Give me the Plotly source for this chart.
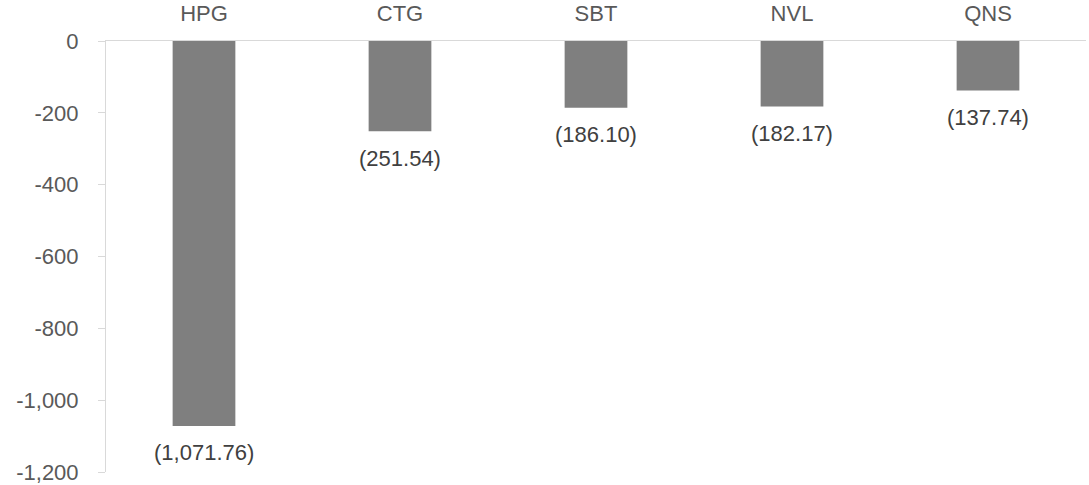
import plotly.graph_objects as go

categories = ["HPG", "CTG", "SBT", "NVL", "QNS"]
values = [-1071.76, -251.54, -186.10, -182.17, -137.74]
labels = ["(1,071.76)", "(251.54)", "(186.10)", "(182.17)", "(137.74)"]
y_tickvals = [0, -200, -400, -600, -800, -1000, -1200]
y_ticktext = ["0", "-200", "-400", "-600", "-800", "-1,000", "-1,200"]

FONT = "Liberation Sans, Arial, sans-serif"

fig = go.Figure()
fig.add_trace(go.Bar(
    x=categories, y=values,
    marker=dict(color="#7f7f7f", line=dict(width=0)),
    width=0.32,
    hoverinfo="skip",
    cliponaxis=False,
))

for c, v, t in zip(categories, values, labels):
    fig.add_annotation(x=c, y=v, text=t, showarrow=False,
                       yanchor="middle", yshift=-27,
                       font=dict(family=FONT, size=22, color="#404040"))

fig.update_layout(
    width=1089, height=485,
    margin=dict(l=106, r=3, t=41, b=13),
    plot_bgcolor="white", paper_bgcolor="white",
    showlegend=False,
    font=dict(family=FONT, size=22, color="#595959"),
    xaxis=dict(
        side="top", showline=True, linecolor="#d9d9d9", linewidth=1,
        showgrid=False, ticks="", ticklabelstandoff=10, automargin=False,
        ticklabeloverflow="allow",
        tickfont=dict(family=FONT, size=22, color="#595959"),
        range=[-0.5, 4.5],
    ),
    yaxis=dict(
        range=[-1200, 0], tickvals=y_tickvals, ticktext=y_ticktext,
        showline=True, linecolor="#d9d9d9", linewidth=1,
        ticks="outside", ticklen=7, tickcolor="#d9d9d9", automargin=False,
        ticklabeloverflow="allow",
        showgrid=False, zeroline=False, ticklabelstandoff=15,
        tickfont=dict(family=FONT, size=22, color="#595959"),
    ),
)

fig.write_html("out.html")
